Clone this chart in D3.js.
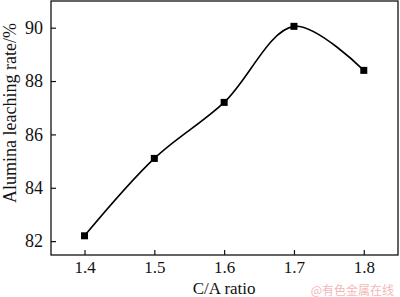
<!DOCTYPE html>
<html>
<head>
<meta charset="utf-8">
<script src="https://cdn.jsdelivr.net/npm/d3@7"></script>
<style>
  body { margin: 0; background: #fff; }
  svg text { font-family: "Liberation Serif", "Times New Roman", Times, "DejaVu Serif", serif; }
</style>
</head>
<body>
<svg id="chart" width="400" height="297"></svg>
<script>
const caRatio = [1.4, 1.5, 1.6, 1.7, 1.8];
const leachRate = [82.2, 85.1, 87.2, 90.05, 88.4];
const xTicks = [1.4, 1.5, 1.6, 1.7, 1.8];
const yTicks = [82, 84, 86, 88, 90];

const serif = '"Liberation Serif", "Times New Roman", Times, "DejaVu Serif", serif';
const margin = {top: 1, right: 2, bottom: 42, left: 51};
const width = 400 - margin.left - margin.right;
const height = 297 - margin.top - margin.bottom;

const svg = d3.select('#chart');
const g = svg.append('g')
    .attr('transform', `translate(${margin.left},${margin.top})`);

const x = d3.scaleLinear().domain([1.352, 1.849]).range([0, width]);
const y = d3.scaleLinear().domain([81.48, 91]).range([height, 0]);

// Frame
g.append('rect')
    .attr('width', width)
    .attr('height', height)
    .attr('fill', 'none')
    .attr('stroke', '#111')
    .attr('stroke-width', 1.3);

// Axes, ticks pointing inwards
const xAxis = d3.axisBottom(x).tickValues(xTicks).tickSize(-5).tickSizeOuter(0)
    .tickFormat(d3.format('.1f')).tickPadding(6);
const yAxis = d3.axisLeft(y).tickValues(yTicks).tickSize(-5).tickSizeOuter(0)
    .tickPadding(8);

const xg = g.append('g').attr('transform', `translate(0,${height})`).call(xAxis);
const yg = g.append('g').call(yAxis);
xg.attr('font-size', 17);
yg.attr('font-size', 18);
[xg, yg].forEach(a => {
    a.attr('font-family', serif);
    a.select('.domain').remove();
    a.selectAll('line').attr('stroke', '#111').attr('stroke-width', 1.2);
    a.selectAll('text').attr('fill', '#111');
});

// Curve
const pts = caRatio.map((c, i) => ({c, v: leachRate[i]}));
const line = d3.line()
    .x(d => x(d.c))
    .y(d => y(d.v))
    .curve(d3.curveCatmullRom.alpha(0.5));

g.append('path')
    .datum(pts)
    .attr('d', line)
    .attr('fill', 'none')
    .attr('stroke', '#000')
    .attr('stroke-width', 1.6);

g.selectAll('.pt')
    .data(pts)
    .join('rect')
    .attr('class', 'pt')
    .attr('x', d => x(d.c) - 3.5)
    .attr('y', d => y(d.v) - 3.5)
    .attr('width', 7)
    .attr('height', 7)
    .attr('fill', '#000');

// Axis labels
svg.append('text')
    .attr('x', margin.left + x(1.6))
    .attr('y', 294)
    .attr('text-anchor', 'middle')
    .attr('font-family', serif)
    .attr('font-size', 17)
    .attr('fill', '#111')
    .text('C/A ratio');

svg.append('text')
    .attr('transform', 'rotate(-90)')
    .attr('x', -113)
    .attr('y', 16)
    .attr('text-anchor', 'middle')
    .attr('font-family', serif)
    .attr('font-size', 18)
    .attr('fill', '#111')
    .text('Alumina leaching rate/%');

// Watermark
svg.append('text')
    .attr('x', 394)
    .attr('y', 295)
    .attr('text-anchor', 'end')
    .attr('font-size', 12)
    .style('font-family', '"Noto Sans CJK SC", sans-serif')
    .attr('fill', '#f2b8b8')
    .text('@有色金属在线');
</script>
</body>
</html>
